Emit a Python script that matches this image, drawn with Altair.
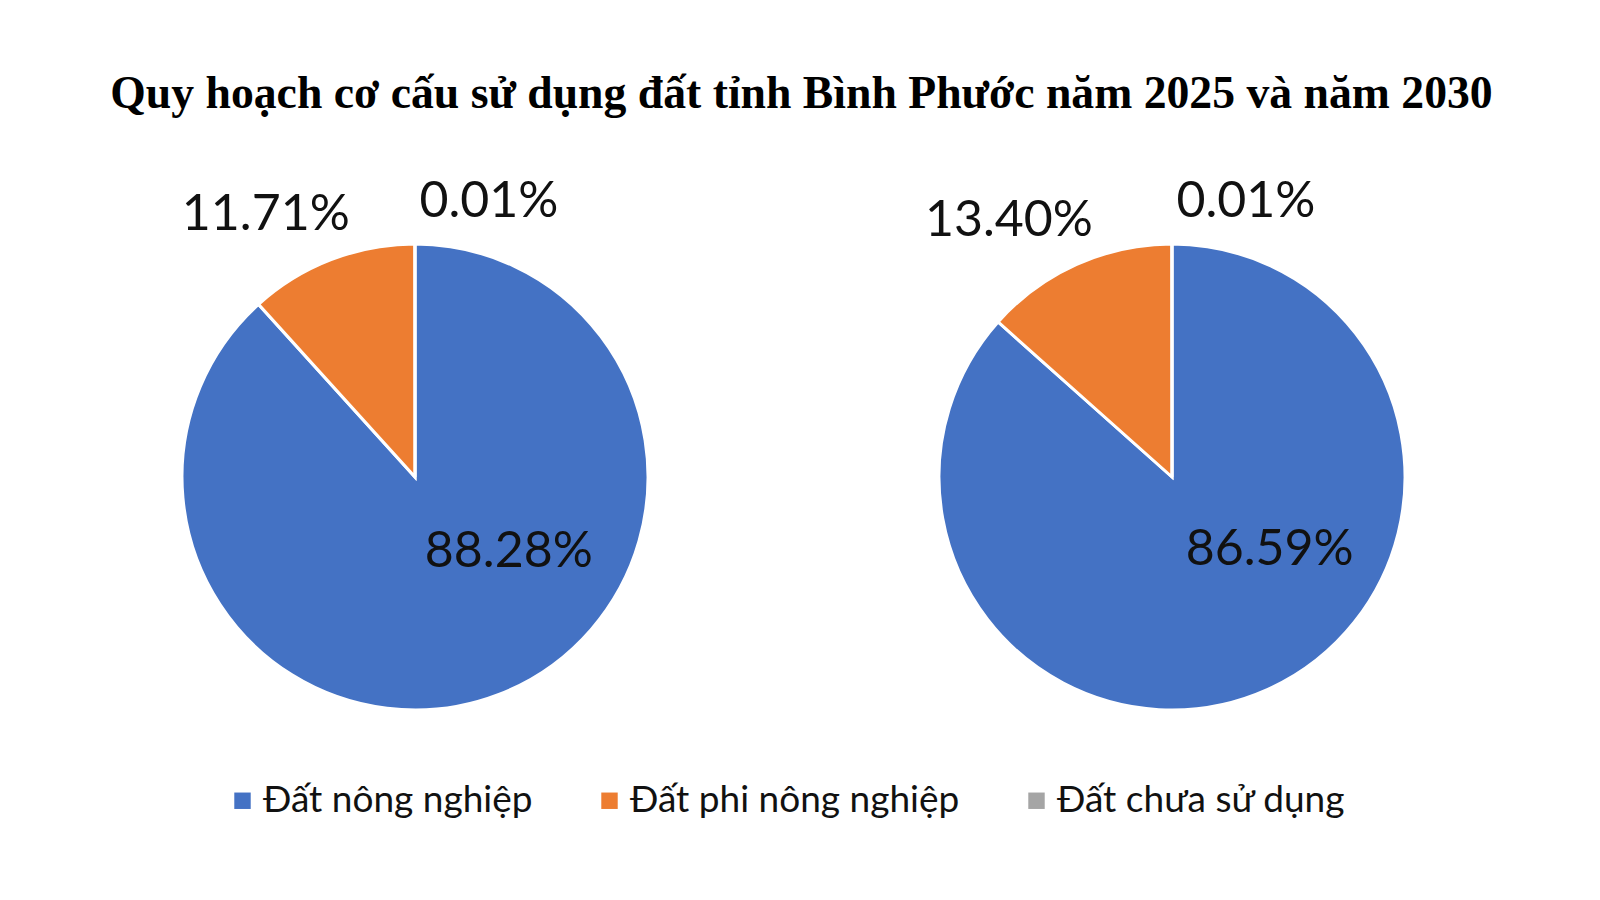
import altair as alt
import pandas as pd

categories = ["Đất nông nghiệp", "Đất phi nông nghiệp", "Đất chưa sử dụng"]
years = ["2025", "2030"]
values_2025 = [88.28, 11.71, 0.01]
values_2030 = [86.59, 13.40, 0.01]
colors = ["#4472C4", "#ED7D31", "#A5A5A5"]

rows = []
for yr, vals in zip(years, [values_2025, values_2030]):
    for i, (c, v) in enumerate(zip(categories, vals)):
        rows.append({"year": yr, "category": c, "value": v, "order": i})
df = pd.DataFrame(rows)

# label placement style per category: (radius, dx, dy)
label_style = {
    categories[0]: (80, 65, 0),
    categories[1]: (281, -48, 0),
    categories[2]: (275, 74, 0),
}

R = 233
theta_scale = alt.Scale(domain=[0, 100])
color = alt.Color(
    "category:N",
    scale=alt.Scale(domain=categories, range=colors),
    sort=categories,
    legend=alt.Legend(title=None),
)


def pie(year):
    base = (
        alt.Chart(df)
        .transform_filter(alt.datum.year == year)
        .transform_window(cum="sum(value)", sort=[alt.SortField("order")])
        .transform_calculate(
            start="datum.cum - datum.value",
            mid="datum.cum - datum.value / 2",
            label="format(datum.value, '.2f') + '%'",
        )
    )
    arcs = base.mark_arc(outerRadius=R, stroke="white", strokeWidth=3).encode(
        theta=alt.Theta("start:Q", scale=theta_scale),
        theta2="cum:Q",
        color=color,
    )
    layers = [arcs]
    for cat in categories:
        r, dx, dy = label_style[cat]
        layers.append(
            base.transform_filter(alt.datum.category == cat)
            .mark_text(
                radius=r, dx=dx, dy=dy, font="Lato", fontSize=50,
                color="#111111", baseline="middle", align="center",
            )
            .encode(theta=alt.Theta("mid:Q", scale=theta_scale), text="label:N")
        )
    return alt.layer(*layers).properties(width=500, height=500)


chart = (
    alt.hconcat(pie("2025"), pie("2030"), spacing=257)
    .properties(
        title=alt.TitleParams(
            "Quy hoạch cơ cấu sử dụng đất tỉnh Bình Phước năm 2025 và năm 2030",
            font="Liberation Serif", fontSize=45.7, fontWeight="bold",
            color="black", anchor="middle", offset=59, dx=8,
        ),
        padding={"left": 102, "top": 63, "right": 5, "bottom": 5},
        background="white",
    )
    .configure_view(strokeWidth=0)
    .configure_legend(
        orient="none", legendX=59, legendY=555, direction="horizontal",
        labelFont="Lato", labelFontSize=37, labelColor="#111111",
        symbolType="square", symbolSize=270, symbolStrokeWidth=0,
        columnPadding=58, labelOffset=2, labelLimit=500,
    )
)

chart.save("out.html", embed_options={"renderer": "svg", "actions": False})
